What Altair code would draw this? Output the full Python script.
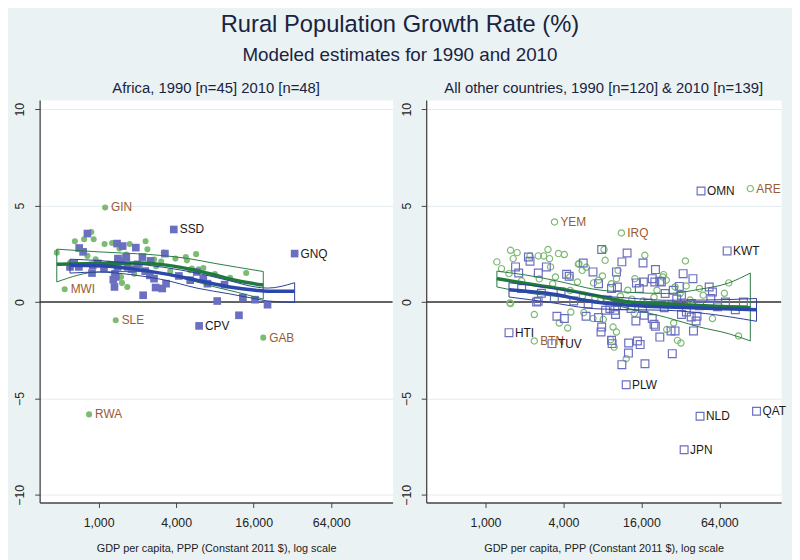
import altair as alt
import pandas as pd

FONT = "Liberation Sans"
GREEN_PT = "#7dbb72"
BLUE_PT = "#6b6fbf"
GREEN_FIT = "#1f7a3c"
BLUE_FIT = "#2b48a8"
GREEN_CI = "#2a7a45"
BLUE_CI = "#2d3f99"
GREEN_LAB = "#9a5a34"
BLUE_LAB = "#1a1a1a"

# ---------------- Africa, 1990 (green) ----------------
AF90_GDP = [473, 654, 771, 877, 915, 818, 948, 1112, 1272, 1450, 1584, 1741, 1640, 1492, 1518,
            1670, 1890, 2314, 2392, 3206, 3063, 3946, 4757, 5716, 5140, 5980, 6510, 14000, 4850,
            5300, 1311, 1200, 2100, 2700, 1000, 2800, 3600, 8000, 10500, 600]
AF90_VAL = [2.56, 3.15, 3.25, 3.63, 3.25, 2.39, 2.22, 3.01, 3.06, 2.77, 2.36, 3.01, 2.46, 1.30, 0.99,
            0.78, 1.47, 3.15, 2.73, 2.56, 2.10, 2.25, 2.33, 2.48, 1.64, 1.70, 1.76, 1.50, 2.16,
            1.73, 1.47, 2.00, 1.90, 2.20, 1.95, 1.85, 1.60, 1.45, 1.25, 2.05]
AF90_LAB_CODE = ["GIN", "MWI", "SLE", "GAB", "RWA"]
AF90_LAB_GDP = [1123, 545, 1358, 19000, 843]
AF90_LAB_VAL = [4.90, 0.66, -0.95, -1.85, -5.83]

# ---------------- Africa, 2010 (blue) ----------------
AF10_GDP = [599, 702, 706, 757, 818, 888, 988, 1327, 1342, 1360, 1390, 1410, 1405, 1537, 1945,
            1680, 2216, 2188, 2532, 2500, 2692, 2770, 3117, 3340, 3272, 5140, 5780, 8340, 12300,
            13200, 16400, 20500, 646, 1640, 1300, 900, 1100, 1800, 2300, 4200, 6500, 9500, 7000,
            1500, 2000]
AF10_VAL = [1.82, 1.82, 2.80, 2.60, 3.55, 1.50, 2.00, 0.78, 1.47, 1.30, 3.03, 2.25, 1.82, 2.90, 2.82,
            1.82, 0.35, 2.33, 2.13, 1.38, 1.21, 0.75, 0.70, 0.95, 2.51, 1.13, 1.56, 0.05, -0.69,
            0.23, 0.12, -0.14, 2.00, 2.30, 1.16, 1.90, 1.75, 1.70, 1.60, 1.35, 1.20, 0.90, 0.95,
            2.10, 1.95]
AF10_LAB_CODE = ["SSD", "CPV", "GNQ"]
AF10_LAB_GDP = [3834, 6030, 33300]
AF10_LAB_VAL = [3.76, -1.24, 2.51]

# ---------------- Other countries, 1990 (green) ----------------
OT90_GDP = [1223, 1560, 1753, 1635, 1328, 1518, 2206, 2556, 2813, 3035, 3120, 3660, 4057, 3470,
            3180, 4480, 5270, 5580, 5130, 6830, 7460, 8000, 8390, 8230, 9400, 10270, 10560, 12550,
            14240, 17000, 21100, 23400, 29100, 31800, 35000, 35500, 44900, 75600, 1560, 5210, 6000,
            23700, 24900,
            1545, 2380, 3710, 4310, 4560, 5740, 6760, 8120, 9660, 10260, 9250, 9850, 14100, 12200,
            25100, 28400, 30400, 32300, 56600, 90000,
            1900, 2600, 3300, 4500, 5600, 7000, 8800, 11000, 13500, 16500, 20000, 26000, 38000,
            48000, 70000]
OT90_VAL = [2.08, 2.68, 2.56, 2.25, 1.73, 1.47, 2.39, 2.39, 2.39, 2.72, 2.25, 2.51, 2.46, 1.30,
            1.82, 1.30, 1.99, 1.64, 1.04, 0.99, 1.13, 1.35, 2.16, 2.72, 0.95, 1.21, 1.64, 0.61,
            1.21, 2.42, 0.61, 1.30, 0.78, 0.44, 2.13, 0.83, 0.70, 0.99, -0.08, 1.96, 1.80,
            1.42, 1.13,
            -0.05, -0.65, -1.09, -1.35, -0.52, -0.55, -0.86, -0.90, -1.30, -1.56, -1.95, -2.34,
            -0.60, -2.94, -1.43, -1.09, -1.99, -2.13, -0.86, -1.76,
            1.10, 1.20, 0.95, 0.60, 0.30, 0.20, 0.10, 0.30, 0.15, 0.05, 0.25, -0.10, 0.10,
            0.35, 0.45]
OT90_LAB_CODE = ["YEM", "IRQ", "ARE", "BTN"]
OT90_LAB_GDP = [3410, 11200, 111000, 2380]
OT90_LAB_VAL = [4.15, 3.58, 5.88, -2.02]

# ---------------- Other countries, 2010 (blue) ----------------
OT10_GDP = [1705, 1803, 2144, 2206, 2556, 2950, 4230, 4430, 5680, 6760, 7890, 10260, 11300, 12400,
            7460, 9400, 14640, 16460, 16570, 20540, 20300, 22800, 24400, 33600, 40000, 53400,
            56600, 28200, 32600, 98200, 71300, 19400, 22200, 10430, 15400, 31400, 2550, 3830,
            9130, 13300, 16300, 38800, 55000,
            2480, 3560, 4060, 5980, 7460, 7890, 7800, 9400, 9500, 9970, 12750, 12700, 11300,
            14900, 15650, 17050, 14500, 16800, 20000, 22200, 27700, 27100, 29100, 32600, 35600,
            38800, 40400, 42300, 43000, 19400, 20500, 8460, 10100,
            1900, 2700, 3400, 4800, 6200, 8700, 11800, 18000, 24000, 30000, 45000, 62000, 85000]
OT10_VAL = [1.82, 1.50, 2.33, 2.11, 1.50, 1.82, 1.44, 1.33, 2.02, 1.56, 2.72, 1.56, 2.08, 2.54,
            0.95, 0.70, 0.99, 2.02, 1.04, 1.68, 1.04, 1.04, 0.44, 1.47, 1.21, 0.78,
            0.52, 0.61, 0.35, 0.00, 0.00, 1.21, 1.07, 0.78, 0.70, 0.81, 0.04, 0.52,
            -0.34, -0.34, -0.34, -0.08, 0.18,
            0.00, -0.74, -0.86, -0.74, -0.81, -1.30, -1.56, -1.99, -2.16, -0.43, -2.13, -2.65,
            -3.25, -2.02, -2.21, -3.20, -0.99, -0.69, -1.16, -1.82, -2.68, -1.50, -1.50, -0.65,
            -0.52, -0.78, -1.50, -0.99, -0.74, -0.86, -1.26, -0.43, -0.65,
            0.70, 0.45, 0.20, 0.05, -0.10, 0.10, -0.20, -0.05, -0.30, 0.15, -0.20, -0.25, -0.40]
OT10_LAB_CODE = ["OMN", "KWT", "HTI", "TUV", "PLW", "NLD", "QAT", "JPN"]
OT10_LAB_GDP = [46200, 73500, 1518, 3260, 12200, 45400, 124000, 34200]
OT10_LAB_VAL = [5.76, 2.65, -1.59, -2.16, -4.29, -5.93, -5.67, -7.66]

# ---------------- Fitted curves with confidence bands ----------------
AF90_FIT_GDP = [473, 1000, 2000, 3000, 5000, 8000, 12000, 19000]
AF90_FIT = [1.96, 2.00, 2.02, 1.95, 1.72, 1.40, 1.10, 0.88]
AF90_HI = [2.74, 2.60, 2.50, 2.42, 2.25, 2.00, 1.80, 1.58]
AF90_LO = [1.04, 1.56, 1.58, 1.48, 1.15, 0.78, 0.50, 0.15]

AF10_FIT_GDP = [599, 1000, 1780, 3200, 5800, 10400, 16500, 20500, 33300]
AF10_FIT = [1.90, 1.88, 1.73, 1.47, 1.13, 0.78, 0.61, 0.56, 0.56]
AF10_HI = [2.22, 2.15, 2.00, 1.80, 1.50, 1.10, 0.78, 0.72, 1.00]
AF10_LO = [1.50, 1.55, 1.42, 1.15, 0.72, 0.42, 0.17, 0.05, -0.02]

OT90_FIT_GDP = [1223, 2500, 4100, 6900, 13000, 25000, 45000, 75000, 111000]
OT90_FIT = [1.21, 0.87, 0.64, 0.35, 0.00, -0.10, -0.18, -0.25, -0.30]
OT90_HI = [1.60, 1.30, 1.00, 0.66, 0.50, 0.44, 0.66, 0.98, 1.50]
OT90_LO = [0.78, 0.40, 0.25, 0.09, -0.35, -0.80, -1.30, -1.64, -2.02]

OT10_FIT_GDP = [1518, 3000, 7000, 13000, 25000, 50000, 124000]
OT10_FIT = [0.64, 0.45, 0.00, -0.17, -0.26, -0.32, -0.40]
OT10_HI = [1.00, 0.75, 0.35, 0.20, 0.09, 0.10, 0.18]
OT10_LO = [0.26, 0.00, -0.35, -0.40, -0.43, -0.60, -1.00]

X_TICKS = [1000, 4000, 16000, 64000]
Y_TICKS = [-10, -5, 0, 5, 10]
X_DOMAIN = [348, 192000]
Y_DOMAIN = [-10.4, 10.47]

xs = alt.Scale(type="log", domain=X_DOMAIN, nice=False)
ys = alt.Scale(domain=Y_DOMAIN, nice=False, zero=False)

x_axis = alt.Axis(values=X_TICKS, format=",.0f", title="GDP per capita, PPP (Constant 2011 $), log scale",
                  grid=False, labelFontSize=12.5, titleFontSize=11, titleFontWeight="normal",
                  labelColor="#222", titleColor="#222", labelFont=FONT, titleFont=FONT,
                  domainColor="#444", domainWidth=1.3, tickColor="#444", tickSize=5,
                  labelPadding=9, titlePadding=14)
y_axis = alt.Axis(values=Y_TICKS, title=None, grid=True, gridColor="#e4ecef", gridWidth=1,
                  labelAngle=270, labelAlign="center", labelBaseline="bottom",
                  labelFontSize=12.5, labelColor="#222", labelFont=FONT,
                  domainColor="#444", domainWidth=1.3, tickColor="#444", tickSize=5, labelPadding=8)


def pts(gdp, val, codes=None):
    return pd.DataFrame({"gdp": gdp, "val": val, "code": codes if codes else [""] * len(gdp)})


def fitdf(gdp, fit, lo, hi):
    return pd.DataFrame({"gdp": gdp, "fit": fit, "lo": lo, "hi": hi})


def panel(title, g_gdp, g_val, g_lc, g_lg, g_lv, b_gdp, b_val, b_lc, b_lg, b_lv,
          gfit, bfit, filled, width):
    zero = alt.Chart(pd.DataFrame({"y": [0]})).mark_rule(color="#333", strokeWidth=1.3).encode(
        y=alt.Y("y:Q", scale=ys, axis=y_axis))
    gdf = pts(g_gdp + g_lg, g_val + g_lv)
    bdf = pts(b_gdp + b_lg, b_val + b_lv)
    if filled:
        gmark = dict(shape="circle", size=38, filled=True, color=GREEN_PT, opacity=1)
        bmark = dict(shape="square", size=60, filled=True, color=BLUE_PT, opacity=1)
    else:
        gmark = dict(shape="circle", size=40, filled=False, color=GREEN_PT, strokeWidth=1.2, opacity=1)
        bmark = dict(shape="square", size=62, filled=False, color=BLUE_PT, strokeWidth=1.2, opacity=1)
    enc = dict(x=alt.X("gdp:Q", scale=xs, axis=x_axis), y=alt.Y("val:Q", scale=ys, axis=y_axis))
    gp = alt.Chart(gdf).mark_point(**gmark).encode(**enc)
    bp = alt.Chart(bdf).mark_point(**bmark).encode(**enc)

    def band(df, col):
        return alt.Chart(df).mark_area(fillOpacity=0, stroke=col, strokeWidth=1, interpolate="monotone").encode(
            x=alt.X("gdp:Q", scale=xs, axis=x_axis),
            y=alt.Y("lo:Q", scale=ys, axis=y_axis), y2="hi:Q")

    def line(df, col):
        return alt.Chart(df).mark_line(color=col, strokeWidth=3.5, interpolate="monotone").encode(
            x=alt.X("gdp:Q", scale=xs, axis=x_axis),
            y=alt.Y("fit:Q", scale=ys, axis=y_axis))

    glab = alt.Chart(pts(g_lg, g_lv, g_lc)).mark_text(align="left", baseline="middle", dx=6,
                                                    fontSize=12, font=FONT, color=GREEN_LAB).encode(
        x=alt.X("gdp:Q", scale=xs, axis=x_axis), y=alt.Y("val:Q", scale=ys, axis=y_axis), text="code:N")
    blab = alt.Chart(pts(b_lg, b_lv, b_lc)).mark_text(align="left", baseline="middle", dx=6,
                                                    fontSize=12, font=FONT, color=BLUE_LAB).encode(
        x=alt.X("gdp:Q", scale=xs, axis=x_axis), y=alt.Y("val:Q", scale=ys, axis=y_axis), text="code:N")

    return alt.layer(zero, gp, bp, band(gfit, GREEN_CI), line(gfit, GREEN_FIT),
                     band(bfit, BLUE_CI), line(bfit, BLUE_FIT), glab, blab).properties(
        width=width, height=407,
        title=alt.TitleParams(title, fontSize=15, font=FONT, fontWeight="normal", color="#1a2340",
                              anchor="middle", offset=4))


left = panel("Africa, 1990 [n=45] 2010 [n=48]",
             AF90_GDP, AF90_VAL, AF90_LAB_CODE, AF90_LAB_GDP, AF90_LAB_VAL,
             AF10_GDP, AF10_VAL, AF10_LAB_CODE, AF10_LAB_GDP, AF10_LAB_VAL,
             fitdf(AF90_FIT_GDP, AF90_FIT, AF90_LO, AF90_HI),
             fitdf(AF10_FIT_GDP, AF10_FIT, AF10_LO, AF10_HI), True, 357)
right = panel("All other countries, 1990 [n=120] & 2010 [n=139]",
              OT90_GDP, OT90_VAL, OT90_LAB_CODE, OT90_LAB_GDP, OT90_LAB_VAL,
              OT10_GDP, OT10_VAL, OT10_LAB_CODE, OT10_LAB_GDP, OT10_LAB_VAL,
              fitdf(OT90_FIT_GDP, OT90_FIT, OT90_LO, OT90_HI),
              fitdf(OT10_FIT_GDP, OT10_FIT, OT10_LO, OT10_HI), False, 359)

chart = alt.hconcat(left, right, spacing=5).properties(
    title=alt.TitleParams("Rural Population Growth Rate (%)",
                          subtitle="Modeled estimates for 1990 and 2010",
                          fontSize=24, subtitleFontSize=19, font=FONT, subtitleFont=FONT,
                          fontWeight="normal", color="#1a2340", subtitleColor="#1a2340",
                          anchor="middle", subtitlePadding=9, offset=16),
    background="#eaf2f3",
    padding={"left": 5, "top": 2, "right": 5, "bottom": 5},
).configure_view(fill="white", stroke="transparent")

chart.save("out.html", embed_options={"renderer": "svg", "actions": False})
